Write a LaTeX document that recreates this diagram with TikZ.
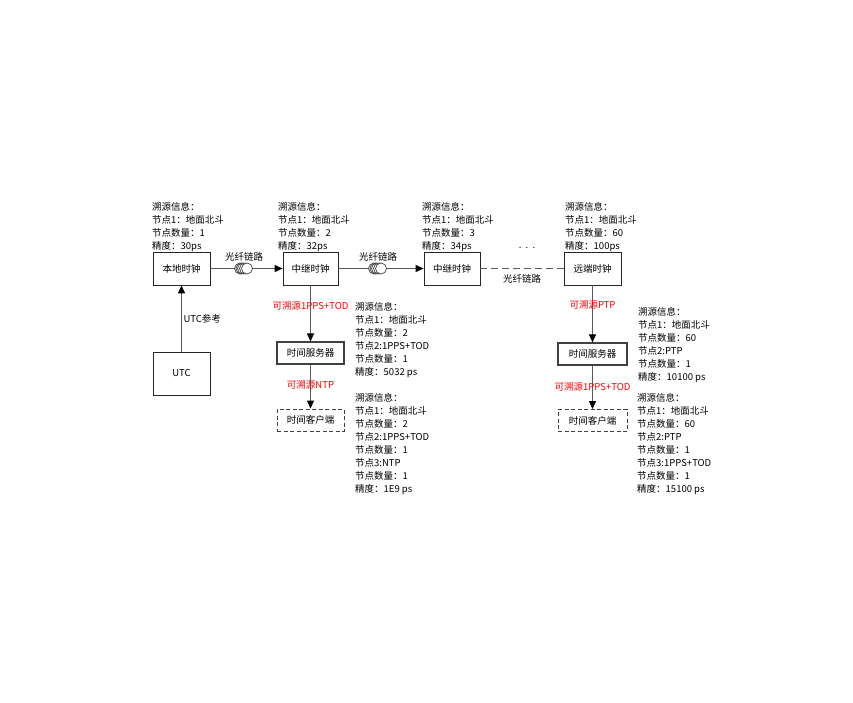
\documentclass[tikz,border=0pt]{standalone}
\usepackage{fontspec}
\setmainfont{Noto Sans CJK SC}
\usetikzlibrary{arrows.meta}
\newcommand\txtsize{\fontsize{9.5pt}{13pt}\selectfont}
\tikzset{
  clockbox/.style={draw=black!85, rectangle, line width=.8pt, minimum width=57pt, minimum height=33pt, font=\txtsize},
  srvbox/.style={draw=black!75, rectangle, line width=1.1pt, minimum width=67pt, minimum height=22pt, font=\txtsize},
  clibox/.style={srvbox, line width=.9pt, dash pattern=on 4pt off 2.5pt},
  infotext/.style={anchor=north west, align=left, inner sep=0pt, font=\txtsize},
  tracelabel/.style={font=\txtsize, text=red},
  hwlink/.style={draw=black!65, line width=1pt, >={Triangle[length=8pt,width=7pt,color=black]}},
  linklabel/.style={font=\txtsize, inner sep=1.5pt}
}

\begin{document}
\begin{tikzpicture}[x=1pt,y=-1pt]
    \useasboundingbox (0,0) rectangle (853,703);
    % clocks along the fibre chain
    \node[clockbox] (local) at (181.5,268.5) {本地时钟};
    \node[clockbox, minimum height=43pt] (utc) at (181.5,373.5) {UTC};
    \node[clockbox, minimum width=55pt] (relaya) at (310.5,268.5) {中继时钟};
    \node[clockbox, minimum width=56pt] (relayb) at (452,268.5) {中继时钟};
    \node[clockbox] (remote) at (592.5,268.5) {远端时钟};
    \coordinate (fibrea) at (244,268.5);
    \coordinate (fibreb) at (378,268.5);
    % servers and clients
    \node[srvbox] (srva) at (310.5,353) {时间服务器};
    \node[clibox] (clia) at (310.5,420) {时间客户端};
    \node[srvbox, minimum width=69pt] (srvb) at (592.5,354) {时间服务器};
    \node[clibox, minimum width=69pt] (clib) at (592.5,420.5) {时间客户端};

    \draw[hwlink,->] (utc) -- (local) node[midway, right, linklabel]{UTC参考};
    \draw[hwlink] (local) -- (fibrea);
    \draw[hwlink,->] (fibrea) -- (relaya);
    \draw[hwlink] (relaya) -- (fibreb);
    \draw[hwlink,->] (fibreb) -- (relayb);
    \draw[hwlink, dash pattern=on 7pt off 4pt] (relayb) -- (remote) node[midway, below=4pt, linklabel]{光纤链路};
    \foreach \f in {fibrea,fibreb} {
      \foreach \dx in {-4,-2.5,-1,1,3}
        \draw[draw=black!75, fill=white, line width=.7pt] ([xshift=\dx pt]\f) circle (5.5pt);
      \node[linklabel, above=6pt] at (\f) {光纤链路};
    }
    \node[linklabel] (dots) at (527,248) {.\ \ .\ \ .};

    \draw[hwlink,->] (relaya) -- (srva) node[midway, tracelabel, yshift=8pt]{可溯源1PPS+TOD};
    \draw[hwlink,->] (srva) -- (clia) node[midway, tracelabel, yshift=2pt]{可溯源NTP};
    \draw[hwlink,->] (remote) -- (srvb) node[midway, tracelabel, yshift=9pt]{可溯源PTP};
    \draw[hwlink,->] (srvb) -- (clib) node[midway, tracelabel]{可溯源1PPS+TOD};

    % traceability info
    \node[infotext] (infolocal) at (152,202) {溯源信息：\\节点1：地面北斗\\节点数量：1\\精度：30ps};
    \node[infotext] (inforelaya) at (278,202) {溯源信息：\\节点1：地面北斗\\节点数量：2\\精度：32ps};
    \node[infotext] (inforelayb) at (422,202) {溯源信息：\\节点1：地面北斗\\节点数量：3\\精度：34ps};
    \node[infotext] (inforemote) at (565,202) {溯源信息：\\节点1：地面北斗\\节点数量：60\\精度：100ps};
    \node[infotext] (infosrva) at (355,302) {溯源信息：\\节点1：地面北斗\\节点数量：2\\节点2:1PPS+TOD\\节点数量：1\\精度：5032 ps};
    \node[infotext] (infoclia) at (355,393) {溯源信息：\\节点1：地面北斗\\节点数量：2\\节点2:1PPS+TOD\\节点数量：1\\节点3:NTP\\节点数量：1\\精度：1E9 ps};
    \node[infotext] (infosrvb) at (638,307) {溯源信息：\\节点1：地面北斗\\节点数量：60\\节点2:PTP\\节点数量：1\\精度：10100 ps};
    \node[infotext] (infoclib) at (637,393) {溯源信息：\\节点1：地面北斗\\节点数量：60\\节点2:PTP\\节点数量：1\\节点3:1PPS+TOD\\节点数量：1\\精度：15100 ps};
\end{tikzpicture}
\end{document}
